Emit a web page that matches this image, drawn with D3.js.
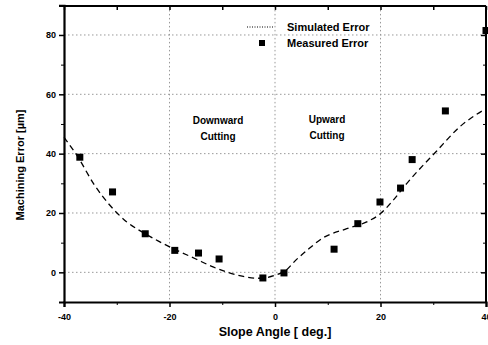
<!DOCTYPE html>
<html>
<head>
<meta charset="utf-8">
<script src="https://cdn.jsdelivr.net/npm/d3@7"></script>
<style>
  html, body { margin: 0; padding: 0; background: #fff; }
  svg { display: block; font-family: "Liberation Sans", Arial, sans-serif; }
</style>
</head>
<body>
<div id="chart"></div>
<script>
// measured points (slope angle in deg, error in um)
const measuredAngle = [-37, -30.8, -24.6, -19, -14.5, -10.6, -2.3, 1.7, 11.2, 15.7, 19.9, 23.8, 26, 32.3, 40];
const measuredError = [38.8, 27.1, 13, 7.4, 6.5, 4.5, -1.9, -0.2, 7.8, 16.4, 23.7, 28.4, 38, 54.4, 81.5];

// simulated curve
const simAngle = [-40, -37.3, -34.4, -31.3, -28.1, -24.6, -19.3, -15, -12, -9, -6, -3, 0, 2, 4, 6, 9, 13.6, 17.4, 20, 22.4, 25, 30.7, 35, 40];
const simError = [45.5, 38.7, 29.9, 22.6, 17, 13, 8, 4.5, 2, 0, -1.4, -2, -1, 0.6, 4.2, 7.3, 11.5, 14.7, 17, 19.8, 24.3, 30, 41, 49, 55.2];

const xTicks = [-40, -20, 0, 20, 40];
const yTicks = [0, 20, 40, 60, 80];
const xMinor = [-30, -10, 10, 30];
const yMinor = [-10, 10, 30, 50, 70];

const width = 488, height = 345;

const svg = d3.select('#chart')
  .append('svg')
  .attr('width', width)
  .attr('height', height);

svg.append('rect').attr('width', width).attr('height', height).attr('fill', '#fff');

const x = d3.scaleLinear().domain([-40, 40]).range([64, 486]);
const y = d3.scaleLinear().domain([-10, 90]).range([302, 5.3]);

const x0 = x.range()[0], x1 = x.range()[1];
const yTop = y(89.8), yBot = y(-10);

// grid
const grid = svg.append('g')
  .attr('stroke', '#999')
  .attr('stroke-width', 1)
  .attr('stroke-dasharray', '1.5,2.5');

grid.selectAll('line.v')
  .data(xTicks.filter(d => d > -40 && d < 40))
  .enter().append('line')
  .attr('x1', d => x(d)).attr('x2', d => x(d))
  .attr('y1', yTop).attr('y2', yBot);

grid.selectAll('line.h')
  .data(yTicks)
  .enter().append('line')
  .attr('y1', d => y(d)).attr('y2', d => y(d))
  .attr('x1', x0).attr('x2', x1);

// simulated curve
const line = d3.line()
  .x(i => x(simAngle[i]))
  .y(i => y(simError[i]))
  .curve(d3.curveMonotoneX);

svg.append('path')
  .datum(d3.range(simAngle.length))
  .attr('fill', 'none')
  .attr('stroke', '#000')
  .attr('stroke-width', 1.3)
  .attr('stroke-dasharray', '6,4')
  .attr('d', line);

// measured squares
const sq = 7;
svg.append('g')
  .selectAll('rect')
  .data(d3.range(measuredAngle.length))
  .enter().append('rect')
  .attr('x', i => x(measuredAngle[i]) - sq / 2)
  .attr('y', i => y(measuredError[i]) - sq / 2)
  .attr('width', sq)
  .attr('height', sq)
  .attr('fill', '#000');

// axes
const bottomAxis = svg.append('g')
  .attr('transform', `translate(0,${yBot})`)
  .call(d3.axisBottom(x).tickValues(xTicks).tickSize(5).tickFormat(d => d));
bottomAxis.select('.domain').attr('stroke-width', 2.2);
bottomAxis.selectAll('.tick line').attr('stroke-width', 1.5);
bottomAxis.selectAll('.tick text')
  .attr('font-size', 9).attr('font-weight', 'bold').attr('dy', '1.1em')
  .attr('fill', '#000');

svg.append('g')
  .attr('transform', `translate(0,${yBot})`)
  .call(d3.axisBottom(x).tickValues(xMinor).tickSize(3).tickFormat(''))
  .call(g => g.select('.domain').remove());

const leftAxis = svg.append('g')
  .attr('transform', `translate(${x0},0)`)
  .call(d3.axisLeft(y).tickValues(yTicks).tickSize(5));
leftAxis.select('.domain').attr('stroke-width', 2.2);
leftAxis.selectAll('.tick line').attr('stroke-width', 1.5);
leftAxis.selectAll('.tick text')
  .attr('font-size', 9).attr('font-weight', 'bold').attr('fill', '#000');

svg.append('g')
  .attr('transform', `translate(${x0},0)`)
  .call(d3.axisLeft(y).tickValues(yMinor).tickSize(3).tickFormat(''))
  .call(g => g.select('.domain').remove());

// top and right frame, ticks pointing inward
const topAxis = svg.append('g')
  .attr('transform', `translate(0,${yTop})`)
  .call(d3.axisBottom(x).tickValues(xTicks.concat(xMinor)).tickSize(4).tickFormat(''));
topAxis.select('.domain').remove();
topAxis.selectAll('.tick line').attr('stroke-width', 1.5);
svg.append('line')
  .attr('x1', x0).attr('x2', x1).attr('y1', yTop).attr('y2', yTop)
  .attr('stroke', '#000').attr('stroke-width', 2);

svg.append('g')
  .attr('transform', `translate(${x1},0)`)
  .call(d3.axisRight(y).tickValues(yTicks).tickSize(-5).tickFormat(''))
  .call(g => g.select('.domain').remove())
  .selectAll('.tick line').attr('stroke-width', 1.5);
svg.append('g')
  .attr('transform', `translate(${x1},0)`)
  .call(d3.axisRight(y).tickValues(yMinor).tickSize(-3).tickFormat(''))
  .call(g => g.select('.domain').remove());
svg.append('line')
  .attr('x1', x1).attr('x2', x1).attr('y1', yTop).attr('y2', yBot)
  .attr('stroke', '#000').attr('stroke-width', 2);

// axis titles
svg.append('text')
  .attr('x', 275).attr('y', 336)
  .attr('text-anchor', 'middle')
  .attr('font-size', 12.5).attr('font-weight', 'bold')
  .text('Slope Angle [ deg.]');

svg.append('text')
  .attr('transform', 'translate(24,165) rotate(-90)')
  .attr('text-anchor', 'middle')
  .attr('font-size', 11).attr('font-weight', 'bold')
  .text('Machining Error [µm]');

// region labels
const region = svg.append('g')
  .attr('font-size', 10).attr('font-weight', 'bold')
  .attr('text-anchor', 'middle');
region.append('text').attr('x', 218).attr('y', 124).text('Downward');
region.append('text').attr('x', 218).attr('y', 140).text('Cutting');
region.append('text').attr('x', 327).attr('y', 123).text('Upward');
region.append('text').attr('x', 327).attr('y', 139).text('Cutting');

// legend
const legend = svg.append('g').attr('font-size', 11).attr('font-weight', 'bold');
legend.append('line')
  .attr('x1', 247).attr('x2', 273).attr('y1', 27).attr('y2', 27)
  .attr('stroke', '#000').attr('stroke-width', 1).attr('stroke-dasharray', '1,1.5');
legend.append('text').attr('x', 287).attr('y', 31).text('Simulated Error');
legend.append('rect')
  .attr('x', 262 - 3).attr('y', 43 - 3).attr('width', 6).attr('height', 6).attr('fill', '#000');
legend.append('text').attr('x', 287).attr('y', 47).text('Measured Error');
</script>
</body>
</html>
